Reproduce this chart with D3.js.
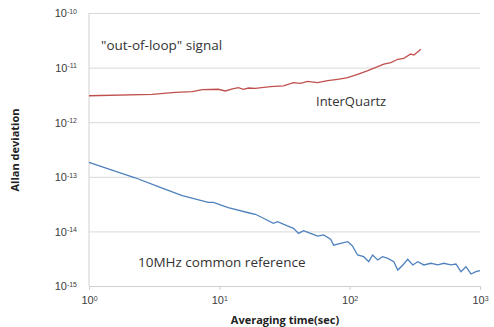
<!DOCTYPE html>
<html>
<head>
<meta charset="utf-8">
<script src="https://cdn.jsdelivr.net/npm/d3@7"></script>
<style>
body { margin: 0; background: #fff; }
svg { font-family: "Open Sans", "Noto Sans", sans-serif; }
</style>
</head>
<body>
<svg id="chart"></svg>
<script>
// 数据
var xTicks = [1, 10, 100, 1000];
var xExp = ["0", "1", "2", "3"];
var yTicks = [1e-10, 1e-11, 1e-12, 1e-13, 1e-14, 1e-15];
var yExp = ["-10", "-11", "-12", "-13", "-14", "-15"];

var quartzTau = [1, 3.05, 4.59, 6.2, 7.4, 9.8, 11.1, 12.6, 14.0, 15.3, 16.7, 18.9, 24.7, 31.0, 37.1, 42.0, 47.5, 56.7, 67.7, 80.9, 96.6, 115, 138, 164, 183, 207, 234, 260, 294, 311, 352];
var quartzDev = [3.05e-12, 3.24e-12, 3.53e-12, 3.62e-12, 3.94e-12, 4.01e-12, 3.73e-12, 4.06e-12, 4.29e-12, 4.01e-12, 4.23e-12, 4.18e-12, 4.47e-12, 4.61e-12, 5.29e-12, 5.16e-12, 5.61e-12, 5.29e-12, 5.75e-12, 6.11e-12, 6.53e-12, 7.54e-12, 8.77e-12, 1.04e-11, 1.16e-11, 1.23e-11, 1.42e-11, 1.48e-11, 1.77e-11, 1.70e-11, 2.16e-11];

var refTau = [1, 1.5, 2.26, 3.4, 5.19, 8.23, 9.0, 11.7, 17.3, 18.9, 21.8, 26.0, 27.9, 33.3, 37.1, 40.5, 44.3, 50.1, 56.7, 63.1, 71.4, 75.3, 85.3, 96.6, 105, 115, 128, 140, 150, 164, 179, 196, 218, 234, 256, 279, 305, 333, 371, 420, 475, 528, 598, 654, 714, 780, 853, 931, 1000];
var refDev = [1.84e-13, 1.33e-13, 9.6e-14, 6.6e-14, 4.51e-14, 3.41e-14, 3.41e-14, 2.72e-14, 2.15e-14, 2.06e-14, 1.74e-14, 1.41e-14, 1.51e-14, 1.26e-14, 1.14e-14, 9.2e-15, 1.03e-14, 9.2e-15, 8.2e-15, 8.6e-15, 7.2e-15, 5.6e-15, 6.05e-15, 6.5e-15, 5.4e-15, 3.7e-15, 3.44e-15, 2.79e-15, 3.7e-15, 2.99e-15, 3.44e-15, 3.21e-15, 2.79e-15, 1.96e-15, 2.43e-15, 3.08e-15, 2.43e-15, 2.79e-15, 2.43e-15, 2.61e-15, 2.43e-15, 2.61e-15, 2.43e-15, 2.53e-15, 1.83e-15, 2.26e-15, 1.66e-15, 1.83e-15, 1.91e-15];

var W = 494, H = 327;
var margin = {left: 89, right: 14, top: 13, bottom: 41};
var w = W - margin.left - margin.right;
var h = H - margin.top - margin.bottom;

var svg = d3.select('#chart').attr('width', W).attr('height', H);
var g = svg.append('g').attr('transform', `translate(${margin.left},${margin.top})`);

// 比例尺
var x = d3.scaleLog().domain([1, 1000]).range([0, w]);
var y = d3.scaleLog().domain([1e-15, 1e-10]).range([h, 0]);

// 网格线 + Y 轴
var yAxis = g.append('g')
  .call(d3.axisLeft(y).tickValues(yTicks).tickSize(-w).tickFormat(''));
yAxis.select('.domain').remove();
yAxis.selectAll('.tick line').attr('stroke', '#d9d9d9');
yAxis.selectAll('.tick').each(function(d, i) {
  var t = d3.select(this).append('text')
    .attr('x', -12).attr('dy', '0.35em')
    .attr('text-anchor', 'end')
    .attr('fill', '#404040')
    .style('font-size', '11px');
  t.append('tspan').text('10');
  t.append('tspan').attr('dy', '-0.5em').style('font-size', '7px').text(yExp[i]);
});

// 左侧轴线
g.append('line')
  .attr('x1', 0).attr('x2', 0).attr('y1', 0).attr('y2', h)
  .attr('stroke', '#d0d0d0');

// X 轴
var xAxis = g.append('g')
  .attr('transform', `translate(0,${h})`)
  .call(d3.axisBottom(x).tickValues(xTicks).tickSize(4).tickFormat(''));
xAxis.select('.domain').attr('stroke', '#d0d0d0');
xAxis.selectAll('.tick line').attr('stroke', '#d0d0d0');
xAxis.selectAll('.tick').each(function(d, i) {
  var t = d3.select(this).append('text')
    .attr('y', 18)
    .attr('text-anchor', 'middle')
    .attr('fill', '#404040')
    .style('font-size', '11px');
  t.append('tspan').text('10');
  t.append('tspan').attr('dy', '-0.5em').style('font-size', '7px').text(xExp[i]);
});

// 曲线
var line = d3.line()
  .x(d => x(d[0]))
  .y(d => y(d[1]));

g.append('path')
  .datum(d3.zip(quartzTau, quartzDev))
  .attr('d', line)
  .attr('fill', 'none')
  .attr('stroke', '#c0504d')
  .attr('stroke-width', 1.3);

g.append('path')
  .datum(d3.zip(refTau, refDev))
  .attr('d', line)
  .attr('fill', 'none')
  .attr('stroke', '#4f81bd')
  .attr('stroke-width', 1.3);

// 标注
svg.append('text')
  .attr('x', 101).attr('y', 50)
  .attr('fill', '#333')
  .style('font-size', '13.5px')
  .text('"out-of-loop" signal');

svg.append('text')
  .attr('x', 316).attr('y', 106)
  .attr('fill', '#333')
  .style('font-size', '13px')
  .text('InterQuartz');

svg.append('text')
  .attr('x', 138).attr('y', 267)
  .attr('fill', '#333')
  .style('font-size', '13.5px')
  .text('10MHz common reference');

// 轴标题
svg.append('text')
  .attr('x', 285).attr('y', 324)
  .attr('text-anchor', 'middle')
  .attr('fill', '#222')
  .style('font-size', '11px')
  .style('font-weight', 'bold')
  .text('Averaging time(sec)');

svg.append('text')
  .attr('transform', 'translate(19,150) rotate(-90)')
  .attr('text-anchor', 'middle')
  .attr('fill', '#222')
  .style('font-size', '11px')
  .style('font-weight', 'bold')
  .text('Allan deviation');
</script>
</body>
</html>
